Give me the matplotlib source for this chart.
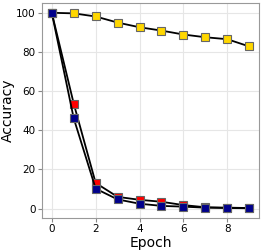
import numpy as np
import matplotlib
matplotlib.use("Agg")
import matplotlib.pyplot as plt

epochs = np.arange(10)
acc_yellow = [100, 99.7, 98.1, 95.0, 92.6, 90.9, 88.9, 87.5, 86.5, 82.8]
acc_red = [100, 53.6, 13.1, 6.0, 4.5, 3.5, 1.8, 0.7, 0.5, 0.3]
acc_blue = [100, 46.1, 10.2, 4.7, 2.5, 1.4, 1.0, 0.5, 0.3, 0.2]

fig = plt.figure(figsize=(2.62, 2.5), dpi=100)
ax = fig.add_axes([0.160, 0.128, 0.829, 0.860])

for vals, col in [(acc_yellow, '#FFD700'), (acc_red, '#FF0000'), (acc_blue, '#00008B')]:
    ax.plot(epochs, vals, color='black', lw=1.3, marker='s', markersize=6,
            markerfacecolor=col, markeredgecolor='#666666', markeredgewidth=0.8)

ax.set_xticks([0, 2, 4, 6, 8])
ax.set_yticks([0, 20, 40, 60, 80, 100])
ax.tick_params(labelsize=7.5, length=3, pad=1.5, color='#888888')
ax.grid(True, color='#e6e6e6', lw=0.8)
ax.set_axisbelow(True)
for s in ax.spines.values():
    s.set_color('#999999')
ax.set_xlabel("Epoch", fontsize=10, labelpad=1)
ax.set_ylabel("Accuracy", fontsize=10, labelpad=1)

fig.savefig("out.png", dpi=100)
